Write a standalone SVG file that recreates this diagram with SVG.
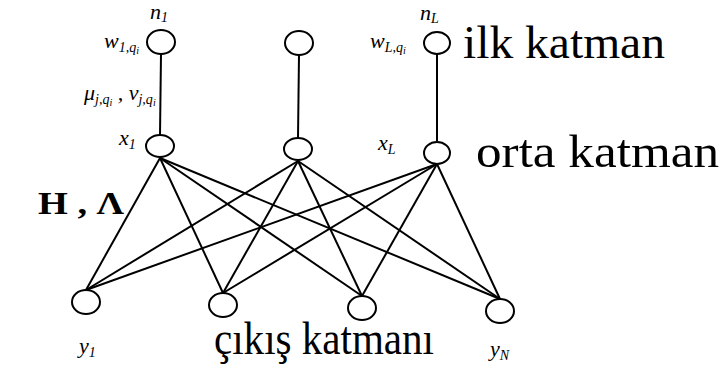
<svg xmlns="http://www.w3.org/2000/svg" width="721" height="373" viewBox="0 0 721 373">
<style>
.n{fill:#fff;stroke:#000;stroke-width:2}
.c line{stroke:#000;stroke-width:2}
.big{font-family:'Liberation Serif','Times New Roman','DejaVu Serif',serif;font-size:46px;fill:#000}
.lab{font-family:'Liberation Serif','Times New Roman','DejaVu Serif',serif;font-style:italic;font-size:22px;fill:#000}
.sub{font-size:14px}
.ss{font-size:10px}
.bold{font-family:'Liberation Serif','Times New Roman','DejaVu Serif',serif;font-weight:bold;font-size:32px;fill:#000}
</style>
<rect width="721" height="373" fill="#fff"/>
<g class="c" id="connectors">
<line x1="161" y1="54" x2="160" y2="135"/>
<line x1="299" y1="55" x2="298" y2="138"/>
<line x1="437" y1="54" x2="437" y2="141"/>
<line x1="160" y1="158" x2="86" y2="290"/>
<line x1="160" y1="158" x2="223" y2="293"/>
<line x1="160" y1="158" x2="362" y2="296"/>
<line x1="160" y1="158" x2="500" y2="299"/>
<line x1="298" y1="161" x2="86" y2="290"/>
<line x1="298" y1="161" x2="223" y2="293"/>
<line x1="298" y1="161" x2="362" y2="296"/>
<line x1="298" y1="161" x2="500" y2="299"/>
<line x1="437" y1="164" x2="86" y2="290"/>
<line x1="437" y1="164" x2="223" y2="293"/>
<line x1="437" y1="164" x2="362" y2="296"/>
<line x1="437" y1="164" x2="500" y2="299"/>
</g>
<g id="n1"><ellipse class="n" cx="161" cy="42" rx="14" ry="12"/></g>
<g id="n2"><ellipse class="n" cx="299" cy="43" rx="14" ry="12"/></g>
<g id="nL"><ellipse class="n" cx="437" cy="43" rx="13" ry="11"/></g>
<g id="x1"><ellipse class="n" cx="160" cy="146" rx="14" ry="11"/></g>
<g id="x2"><ellipse class="n" cx="298" cy="149" rx="14" ry="11"/></g>
<g id="xL"><ellipse class="n" cx="437" cy="153" rx="13" ry="11"/></g>
<g id="y1"><ellipse class="n" cx="86" cy="302" rx="14" ry="12"/></g>
<g id="y2"><ellipse class="n" cx="223" cy="305" rx="14" ry="12"/></g>
<g id="y3"><ellipse class="n" cx="362" cy="308" rx="14" ry="12"/></g>
<g id="yN"><ellipse class="n" cx="500" cy="311" rx="14" ry="12"/></g>
<g id="labels">
<text class="lab" x="150" y="19">n<tspan class="sub" dy="3">1</tspan></text>
<text class="lab" x="104" y="48">w<tspan class="sub" dy="4">1,q</tspan><tspan class="ss" dy="2">i</tspan></text>
<text class="lab" x="84" y="100">μ<tspan class="sub" dy="4">j,q</tspan><tspan class="ss" dy="2">i</tspan><tspan dy="-6"> , ν</tspan><tspan class="sub" dy="4">j,q</tspan><tspan class="ss" dy="2">i</tspan></text>
<text class="lab" x="119" y="145">x<tspan class="sub" dy="4">1</tspan></text>
<text class="lab" x="420" y="20">n<tspan class="sub" dy="3">L</tspan></text>
<text class="lab" x="370" y="48">w<tspan class="sub" dy="4">L,q</tspan><tspan class="ss" dy="2">i</tspan></text>
<text class="lab" x="378" y="150">x<tspan class="sub" dy="4">L</tspan></text>
<text class="lab" x="79" y="353">y<tspan class="sub" dy="4">1</tspan></text>
<text class="lab" x="490" y="356">y<tspan class="sub" dy="4">N</tspan></text>
<text class="bold" x="38" y="214" textLength="86" lengthAdjust="spacingAndGlyphs">H , Λ</text>
<text class="big" x="463" y="58" textLength="202" lengthAdjust="spacingAndGlyphs">ilk katman</text>
<text class="big" x="476" y="167" textLength="243" lengthAdjust="spacingAndGlyphs">orta katman</text>
<text class="big" x="214" y="354" textLength="220" lengthAdjust="spacingAndGlyphs">çıkış katmanı</text>
</g>
</svg>
